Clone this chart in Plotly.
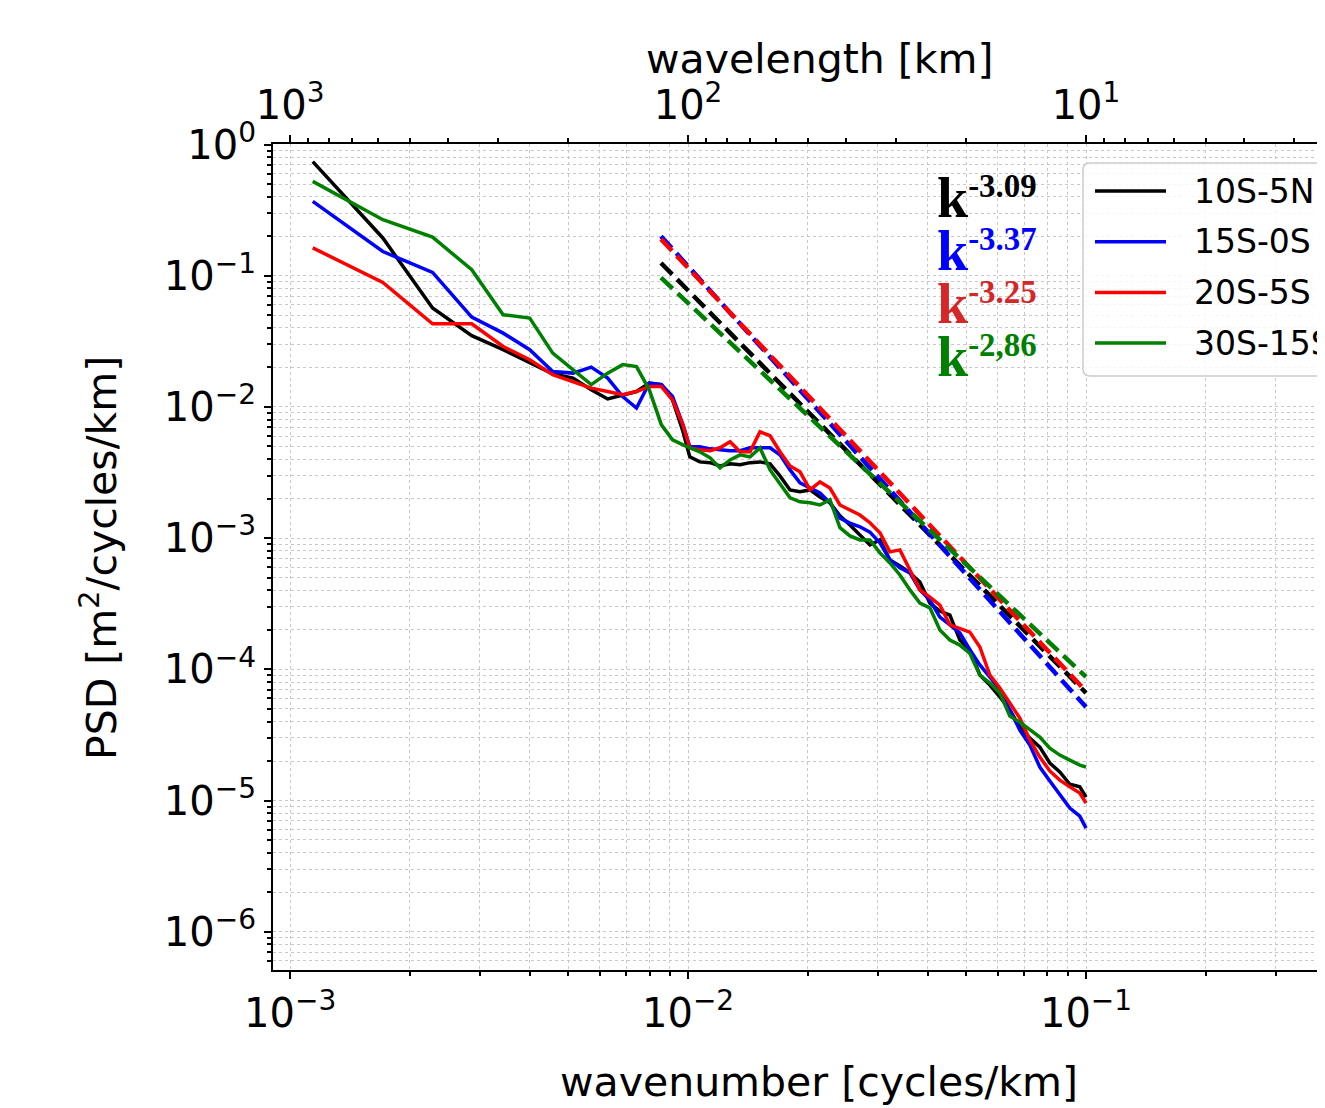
import plotly.graph_objects as go

# ---------------- data ----------------
wavenumber = [0.00114, 0.00171, 0.00228, 0.00286, 0.00343, 0.00400, 0.00457, 0.00514,
              0.00571, 0.00628, 0.00685, 0.00742, 0.00799, 0.00857, 0.00914, 0.00971,
              0.0101, 0.0107, 0.01136, 0.01203, 0.01275, 0.01351, 0.01431, 0.01516,
              0.01607, 0.01702, 0.01804, 0.01911, 0.02025, 0.02145, 0.02273, 0.02408,
              0.02551, 0.02703, 0.02864, 0.03035, 0.03215, 0.03407, 0.0361, 0.03824,
              0.04052, 0.04293, 0.04549, 0.04819, 0.05106, 0.0541, 0.05732, 0.06074,
              0.06435, 0.06818, 0.07224, 0.07654, 0.0811, 0.08592, 0.09104, 0.09646, 0.1]

psd_10S_5N = [0.74, 0.194, 0.0567, 0.0349, 0.0273, 0.0216, 0.0179, 0.0166, 0.0135, 0.0115,
              0.0124, 0.0131, 0.0152, 0.0148, 0.0113, 0.00649,
              0.00416, 0.00381, 0.00376, 0.00355, 0.00368, 0.00362, 0.00376, 0.00381, 0.00368,
              0.00298, 0.00233, 0.00226, 0.00233, 0.00206, 0.00186, 0.00148, 0.00126, 0.00106,
              0.000887, 0.000969, 0.000682, 0.000614, 0.000543, 0.000463, 0.00032, 0.000278,
              0.000259, 0.000167, 0.000141, 9.05e-5, 7.59e-5, 6.15e-5, 4.89e-5, 3.63e-5,
              2.99e-5, 2.55e-5, 1.93e-5, 1.65e-5, 1.33e-5, 1.27e-5, 1.06e-5]

psd_15S_0S = [0.369, 0.153, 0.106, 0.0484, 0.0365, 0.0273, 0.0186, 0.0181, 0.0201, 0.0166,
              0.0120, 0.00979, 0.0152, 0.0148, 0.0120, 0.0073,
              0.00496, 0.00496, 0.00479, 0.00471, 0.00464, 0.00464, 0.00488, 0.00488, 0.00488,
              0.00431, 0.00331, 0.00264, 0.00241, 0.00221, 0.00186, 0.00142, 0.0013, 0.00122,
              0.00111, 0.000919, 0.000682, 0.000593, 0.000543, 0.000403, 0.000337, 0.00025,
              0.000218, 0.000189, 0.000141, 0.000108, 8.73e-5, 6.95e-5, 4.89e-5, 3.44e-5,
              2.65e-5, 1.8e-5, 1.41e-5, 1.1e-5, 8.75e-6, 7.6e-6, 6.16e-6]

psd_20S_5S = [0.163, 0.0889, 0.043, 0.043, 0.0289, 0.0229, 0.0176, 0.0156, 0.0139, 0.0131,
              0.0124, 0.0131, 0.0143, 0.0143, 0.0113, 0.0073,
              0.00487, 0.00471, 0.00464, 0.00488, 0.00542, 0.00455, 0.00455, 0.00646, 0.00603,
              0.00455, 0.00355, 0.0032, 0.00233, 0.00268, 0.00241, 0.00179, 0.00164, 0.0015,
              0.00131, 0.0011, 0.000785, 0.000813, 0.000572, 0.000403, 0.000355, 0.000309,
              0.000218, 0.000206, 0.000192, 0.000148, 9.05e-5, 7.2e-5, 5.53e-5, 4.25e-5,
              2.89e-5, 2.14e-5, 1.68e-5, 1.43e-5, 1.27e-5, 1.14e-5, 9.55e-6]

psd_30S_15S = [0.524, 0.267, 0.197, 0.111, 0.0504, 0.0476, 0.0257, 0.0192, 0.0148, 0.0181,
               0.0210, 0.0203, 0.0135, 0.0073, 0.00561, 0.00513,
               0.00487, 0.00455, 0.00409, 0.00343, 0.00394, 0.00431, 0.00416, 0.00487, 0.00331,
               0.00259, 0.00203, 0.00189, 0.00186, 0.00179, 0.00196, 0.0012, 0.00104, 0.000969,
               0.000969, 0.000771, 0.000647, 0.000524, 0.000403, 0.00032, 0.000294, 0.000199,
               0.000167, 0.000153, 0.000132, 9.05e-5, 7.86e-5, 6.59e-5, 4.4e-5, 3.96e-5,
               3.44e-5, 3.04e-5, 2.51e-5, 2.22e-5, 2.03e-5, 1.86e-5, 1.8e-5]

# power-law fit lines (end points)
fit_k = [0.00855, 0.1]
fit_10S_5N = [0.125, 6.6e-5]
fit_15S_0S = [0.2, 5.15e-5]
fit_20S_5S = [0.19, 6.8e-5]
fit_30S_15S = [0.0966, 8.75e-5]

series_names = ["10S-5N", "15S-0S", "20S-5S", "30S-15S"]
series_psd = [psd_10S_5N, psd_15S_0S, psd_20S_5S, psd_30S_15S]
series_fit = [fit_10S_5N, fit_15S_0S, fit_20S_5S, fit_30S_15S]
slope_labels = ["-3.09", "-3.37", "-3.25", "-2,86"]

line_colors = ["#000000", "#0000ff", "#ff0000", "#008000"]
label_colors = ["#000000", "#0000ff", "#d62728", "#008000"]

x_ticks = [0.001, 0.01, 0.1]
x_ticktext = ["10<sup>\u22123</sup>", "10<sup>\u22122</sup>", "10<sup>\u22121</sup>"]
top_ticks = [1000, 100, 10]
top_ticktext = ["10<sup>3</sup>", "10<sup>2</sup>", "10<sup>1</sup>"]
y_ticks = [1e-6, 1e-5, 1e-4, 1e-3, 1e-2, 1e-1, 1]
y_ticktext = ["10<sup>\u22126</sup>", "10<sup>\u22125</sup>", "10<sup>\u22124</sup>",
              "10<sup>\u22123</sup>", "10<sup>\u22122</sup>", "10<sup>\u22121</sup>",
              "10<sup>0</sup>"]

# ---------------- layout geometry ----------------
# the page body has an 8px margin; positions below are in window pixels
OFF = 8
W, H = 1325 - OFF, 1108 - OFF
L = 273 - OFF
T = 144 - OFF
B = H - (970 - OFF)
R = 0
PW, PH = W - L - R, H - T - B


def xp(px):
    return (px - OFF - L) / PW


def yp(py):
    return (H - B - (py - OFF)) / PH


def minor_vals(e0, e1):
    return [m * 10.0 ** e for e in range(e0, e1) for m in range(2, 10)]


FONT = "DejaVu Sans"
GRID = "#c8c8c8"

fig = go.Figure()

for name, psd, col in zip(series_names, series_psd, line_colors):
    fig.add_trace(go.Scatter(x=wavenumber, y=psd, mode="lines", name=name,
                             line=dict(color=col, width=3.5), showlegend=False))

for fit, col in zip(series_fit, line_colors):
    fig.add_trace(go.Scatter(x=fit_k, y=fit, mode="lines",
                             line=dict(color=col, width=4.5, dash="16px,7px"),
                             showlegend=False))

# invisible companion trace so the top (wavelength) axis is drawn
fig.add_trace(go.Scatter(x=[1.0 / k for k in wavenumber], y=psd_10S_5N, xaxis="x2",
                         yaxis="y", mode="lines", opacity=0, line=dict(width=0),
                         hoverinfo="skip", showlegend=False))

axis_common = dict(
    type="log", showline=True, linecolor="black", linewidth=2,
    ticks="outside", ticklen=7, tickwidth=2, tickcolor="black",
    tickfont=dict(family=FONT, size=40, color="black"),
    zeroline=False, tickmode="array",
)

fig.update_layout(
    width=W, height=H,
    margin=dict(l=L, r=R, t=T, b=B, pad=0),
    paper_bgcolor="white", plot_bgcolor="white",
    showlegend=False,
    xaxis=dict(**axis_common, range=[-3.043, -0.3995],
               tickvals=x_ticks, ticktext=x_ticktext,
               showgrid=True, gridcolor=GRID, griddash="dot", gridwidth=1,
               minor=dict(tickmode="array", tickvals=minor_vals(-4, 1),
                          ticks="outside", ticklen=4, tickwidth=1.5, tickcolor="black",
                          showgrid=True, gridcolor=GRID, griddash="dot", gridwidth=1)),
    xaxis2=dict(**axis_common, range=[3.043, 0.3995], overlaying="x", side="top",
                anchor="y", tickvals=top_ticks, ticktext=top_ticktext, showgrid=False,
                minor=dict(tickmode="array", tickvals=minor_vals(0, 4),
                           ticks="outside", ticklen=4, tickwidth=1.5, tickcolor="black",
                           showgrid=False)),
    yaxis=dict(**axis_common, range=[-6.292, 0.004],
               tickvals=y_ticks, ticktext=y_ticktext,
               showgrid=True, gridcolor=GRID, griddash="dot", gridwidth=1,
               minor=dict(tickmode="array", tickvals=minor_vals(-7, 1),
                          ticks="outside", ticklen=4, tickwidth=1.5, tickcolor="black",
                          showgrid=True, gridcolor=GRID, griddash="dot", gridwidth=1)),
)

annotations = []
# axis titles
annotations.append(dict(text="wavenumber [cycles/km]", x=xp(819), y=yp(1082),
                        xref="paper", yref="paper", xanchor="center", yanchor="middle",
                        showarrow=False, font=dict(family=FONT, size=41, color="black")))
annotations.append(dict(text="wavelength [km]", x=xp(820), y=yp(59),
                        xref="paper", yref="paper", xanchor="center", yanchor="middle",
                        showarrow=False, font=dict(family=FONT, size=41, color="black")))
annotations.append(dict(text="PSD [m<sup>2</sup>/cycles/km]", x=xp(99), y=yp(558),
                        xref="paper", yref="paper", xanchor="center", yanchor="middle",
                        textangle=-90, showarrow=False,
                        font=dict(family=FONT, size=41, color="black")))

# slope labels (k with a bold exponent)
for i, (lab, col) in enumerate(zip(slope_labels, label_colors)):
    cy = 198 + 53 * i
    annotations.append(dict(
        text=f"<span style='font-size:56px'>k</span><sup>{lab}</sup>",
        x=xp(935), y=yp(cy), xref="paper", yref="paper",
        xanchor="left", yanchor="middle", showarrow=False,
        font=dict(family="Liberation Serif", size=47, color=col, weight="bold")))

# legend (drawn manually, partly cut off by the figure edge as in the reference)
shapes = []
x0, x1, y0, y1, r = 1083, 1420, 163, 376, 7
rx, ry = r / PW, r / PH
X0, X1, Y0, Y1 = xp(x0), xp(x1), yp(y0), yp(y1)
path = (f"M {X0 + rx},{Y0} L {X1 - rx},{Y0} Q {X1},{Y0} {X1},{Y0 - ry} "
        f"L {X1},{Y1 + ry} Q {X1},{Y1} {X1 - rx},{Y1} L {X0 + rx},{Y1} "
        f"Q {X0},{Y1} {X0},{Y1 + ry} L {X0},{Y0 - ry} Q {X0},{Y0} {X0 + rx},{Y0} Z")
shapes.append(dict(type="path", path=path, xref="paper", yref="paper", layer="above",
                   fillcolor="rgba(255,255,255,0.85)", line=dict(color="#cccccc", width=1.5)))
for i, (name, col) in enumerate(zip(series_names, line_colors)):
    cy = 191 + 50.7 * i
    shapes.append(dict(type="line", x0=xp(1095), x1=xp(1166), y0=yp(cy), y1=yp(cy),
                       xref="paper", yref="paper", layer="above",
                       line=dict(color=col, width=3.5)))
    annotations.append(dict(text=name, x=xp(1192), y=yp(cy), xref="paper", yref="paper",
                            xanchor="left", yanchor="middle", showarrow=False,
                            font=dict(family=FONT, size=33, color="black")))

fig.update_layout(annotations=annotations, shapes=shapes)

fig.write_html("out.html")
